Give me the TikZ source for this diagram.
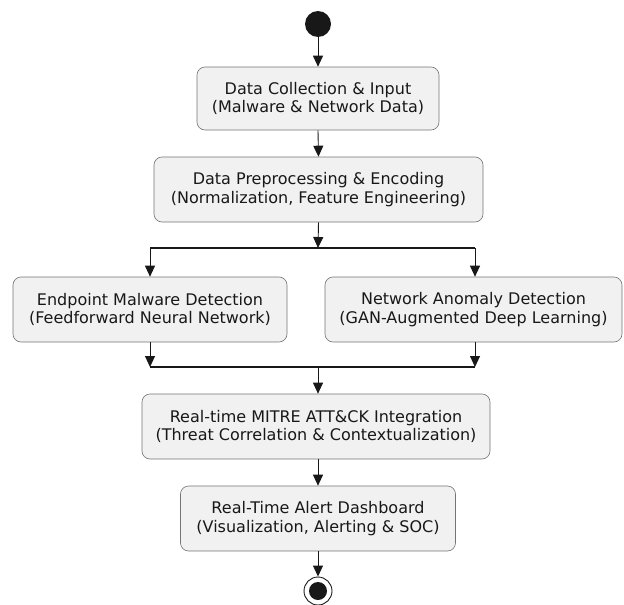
\documentclass[tikz,border=0pt]{standalone}
\usepackage{fontspec}
\setmainfont{DejaVu Sans}
\usetikzlibrary{arrows.meta}
\definecolor{boxfill}{HTML}{F1F1F1}
\definecolor{ink}{HTML}{181818}
\tikzset{
  act/.style={draw=ink!60, line width=0.6pt, fill=boxfill, rounded corners=8pt,
    align=center, font=\fontsize{16}{18.5}\selectfont, text=ink, inner sep=0pt},
  flow/.style={draw=ink, line width=0.9pt, -{Triangle[length=11pt,width=10pt]}},
  bar/.style={draw=ink, line width=2.6pt},
}
\begin{document}
\begin{tikzpicture}[x=1pt,y=-1pt]
\useasboundingbox (0,0) rectangle (624,605);
\fill[ink] (318,24) circle (13);
\node[circle, minimum size=26pt, inner sep=0pt] (s) at (318,24) {};
\node[act, minimum width=242pt, minimum height=63pt] (a) at (318,98.5) {Data Collection \& Input\\(Malware \& Network Data)};
\node[act, minimum width=329pt, minimum height=65pt] (b) at (318.5,189.5) {Data Preprocessing \& Encoding\\(Normalization, Feature Engineering)};
\coordinate (f1) at (150,248);
\coordinate (f2) at (475,248);
\coordinate (fm) at (318,248);
\node[act, minimum width=274pt, minimum height=65pt] (c) at (150,309.5) {Endpoint Malware Detection\\(Feedforward Neural Network)};
\node[act, minimum width=297pt, minimum height=65pt] (d) at (473.5,309.5) {Network Anomaly Detection\\(GAN-Augmented Deep Learning)};
\coordinate (j1) at (150,367);
\coordinate (j2) at (475,367);
\coordinate (jm) at (318,367);
\node[act, minimum width=348pt, minimum height=65pt] (e) at (316,426.5) {Real-time MITRE ATT\&CK Integration\\(Threat Correlation \& Contextualization)};
\node[act, minimum width=275pt, minimum height=65pt] (f) at (318,518.5) {Real-Time Alert Dashboard\\(Visualization, Alerting \& SOC)};
\node[circle, draw=ink, line width=0.9pt, fill=white, minimum size=28pt, inner sep=0pt] (z) at (318,591) {};
\fill[ink] (z.center) circle (9);
\draw[flow] (s.south) -- (a.north);
\draw[flow] (a.south) -- (b.north);
\draw[flow] (b.south) -- (fm);
\draw[bar] (f1) -- (f2);
\draw[flow] (f1) -- (f1 |- c.north);
\draw[flow] (f2) -- (f2 |- d.north);
\draw[flow] (c.south -| j1) -- (j1);
\draw[flow] (d.south -| j2) -- (j2);
\draw[bar] (j1) -- (j2);
\draw[flow] (jm) -- (jm |- e.north);
\draw[flow] (e.south -| f.north) -- (f.north);
\draw[flow] (f.south) -- (z.north);
\end{tikzpicture}
\end{document}
